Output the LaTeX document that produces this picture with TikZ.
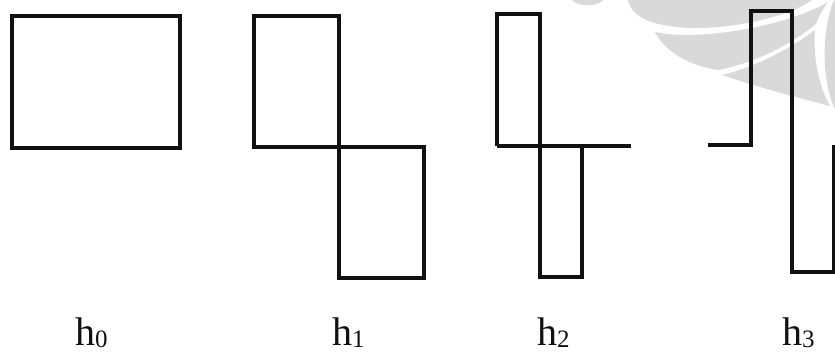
\documentclass[tikz,border=0pt]{standalone}
\usepackage{fontspec}
\setmainfont{Liberation Serif}
\usetikzlibrary{positioning}
\definecolor{ScanInk}{HTML}{111111}
\definecolor{Watermark}{HTML}{D9D9D9}
\newcommand{\haarname}[1]{h\raisebox{-2pt}{\fontsize{25}{25}\selectfont #1}}

\begin{document}
\begin{tikzpicture}[x=1pt,y=-1pt,line join=miter,
    haar/.style={ScanInk,line width=3.3pt},
    haarlabel/.style={font=\fontsize{40}{40}\selectfont,text=ScanInk,
      inner sep=0pt,anchor=base west}]
  \useasboundingbox (0,0) rectangle (835,354);
  \path[fill=white] (0,0) rectangle (835,354);
  % faint watermark behind the plots
  \begin{scope}
    \clip (0,0) rectangle (835,354);
    \path[fill=Watermark]
      (572,0) .. controls (577,7) and (598,7) .. (603,0) -- cycle;
    \path[fill=Watermark]
      (628,0) .. controls (632,18) and (652,26) .. (690,28)
      .. controls (735,29) and (790,16) .. (812,0) -- cycle;
    \path[fill=Watermark]
      (655,32) .. controls (700,42) and (790,25) .. (828,2)
      .. controls (822,10) and (818,18) .. (816,24)
      .. controls (790,45) and (755,63) .. (718,70)
      .. controls (690,66) and (665,52) .. (655,32) -- cycle;
    \path[fill=Watermark]
      (722,75) .. controls (760,66) and (795,45) .. (815,30)
      .. controls (813,55) and (818,85) .. (830,106)
      .. controls (800,98) and (760,88) .. (722,75) -- cycle;
    \path[fill=Watermark]
      (833,2) .. controls (823,30) and (820,75) .. (835,110) -- (835,0) -- cycle;
  \end{scope}

  % h0
  \draw[haar] (12,16) rectangle (180,148);
  % h1
  \draw[haar] (254,16) rectangle (339,147);
  \draw[haar] (339,147) rectangle (424,278);
  % h2
  \draw[haar] (497,146) -- (497,14) -- (540,14) -- (540,277)
    -- (582,277) -- (582,146);
  \draw[haar] (497,146) -- (631,146);
  % h3
  \draw[haar] (708,145) -- (751,145) -- (751,11) -- (792,11)
    -- (792,272) -- (834,272) -- (834,145);

  \node[haarlabel] (lab0) at (75,345) {\haarname{0}};
  \node[haarlabel] (lab1) at (332,345) {\haarname{1}};
  \node[haarlabel] (lab2) at (537,345) {\haarname{2}};
  \node[haarlabel] (lab3) at (782,345) {\haarname{3}};
\end{tikzpicture}
\end{document}
